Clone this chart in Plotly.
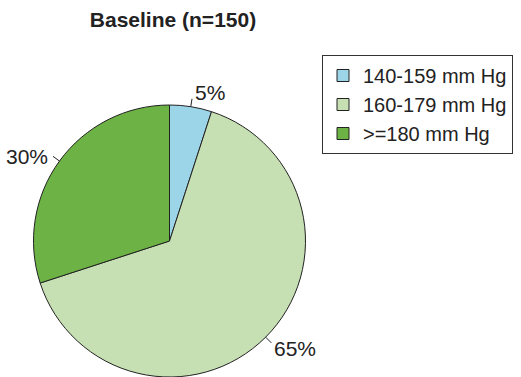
import math
import plotly.graph_objects as go

# Distribution of systolic blood pressure at baseline
categories = ["140-159 mm Hg", "160-179 mm Hg", ">=180 mm Hg"]
shares = [5, 65, 30]
slice_colors = ["#9dd5e8", "#c6e0b4", "#6cb244"]
title_text = "Baseline (n=150)"

W, H = 521, 377
# pie placement (pixels)
cx, cy, r = 169.5, 241.0, 136.0
FONT = "Liberation Sans, Arial, Helvetica, sans-serif"

fig = go.Figure(
    go.Pie(
        labels=categories,
        values=shares,
        sort=False,
        direction="clockwise",
        rotation=0,
        marker=dict(colors=slice_colors, line=dict(color="#222222", width=1)),
        textinfo="none",
        hoverinfo="label+percent",
        domain=dict(x=[(cx - r) / W, (cx + r) / W], y=[(H - cy - r) / H, (H - cy + r) / H]),
    )
)

# outside percentage labels with short leader ticks at each slice's mid-angle
total = sum(shares)
start = 0.0
tick_len = 8.0
for v in shares:
    frac = v / total
    mid = (start + frac / 2) * 2 * math.pi
    start += frac
    s, c = math.sin(mid), math.cos(mid)
    x0, y0 = cx + r * s, cy - r * c
    x1, y1 = cx + (r + tick_len) * s, cy - (r + tick_len) * c
    fig.add_shape(
        type="line", xref="paper", yref="paper",
        x0=x0 / W, y0=1 - y0 / H, x1=x1 / W, y1=1 - y1 / H,
        line=dict(color="#222222", width=1),
    )
    xanchor = "left" if s >= 0 else "right"
    dy = -6 * (1 if c > 0.7 else (-1 if c < -0.7 else 0))
    fig.add_annotation(
        xref="paper", yref="paper",
        x=(x1 + (1 if s >= 0 else -3)) / W, y=1 - (y1 + dy) / H,
        xanchor=xanchor, yanchor="middle",
        text=f"{round(frac * 100)}%", showarrow=False,
        font=dict(size=21, color="#222222", family=FONT),
    )

fig.update_layout(
    width=W, height=H,
    margin=dict(l=0, r=0, t=0, b=0),
    paper_bgcolor="white",
    plot_bgcolor="white",
    font=dict(family=FONT, size=20, color="#222222"),
    title=dict(
        text=f"<b>{title_text}</b>",
        x=173 / W, xanchor="center",
        y=1 - 20 / H, yanchor="middle",
        font=dict(size=21, color="#222222", family=FONT),
    ),
    showlegend=True,
    legend=dict(
        x=322 / W, y=1 - 55 / H, xanchor="left", yanchor="top",
        bordercolor="#333333", borderwidth=1,
        font=dict(size=20, color="#222222", family=FONT),
        traceorder="normal",
    ),
)

fig.write_html("out.html")
